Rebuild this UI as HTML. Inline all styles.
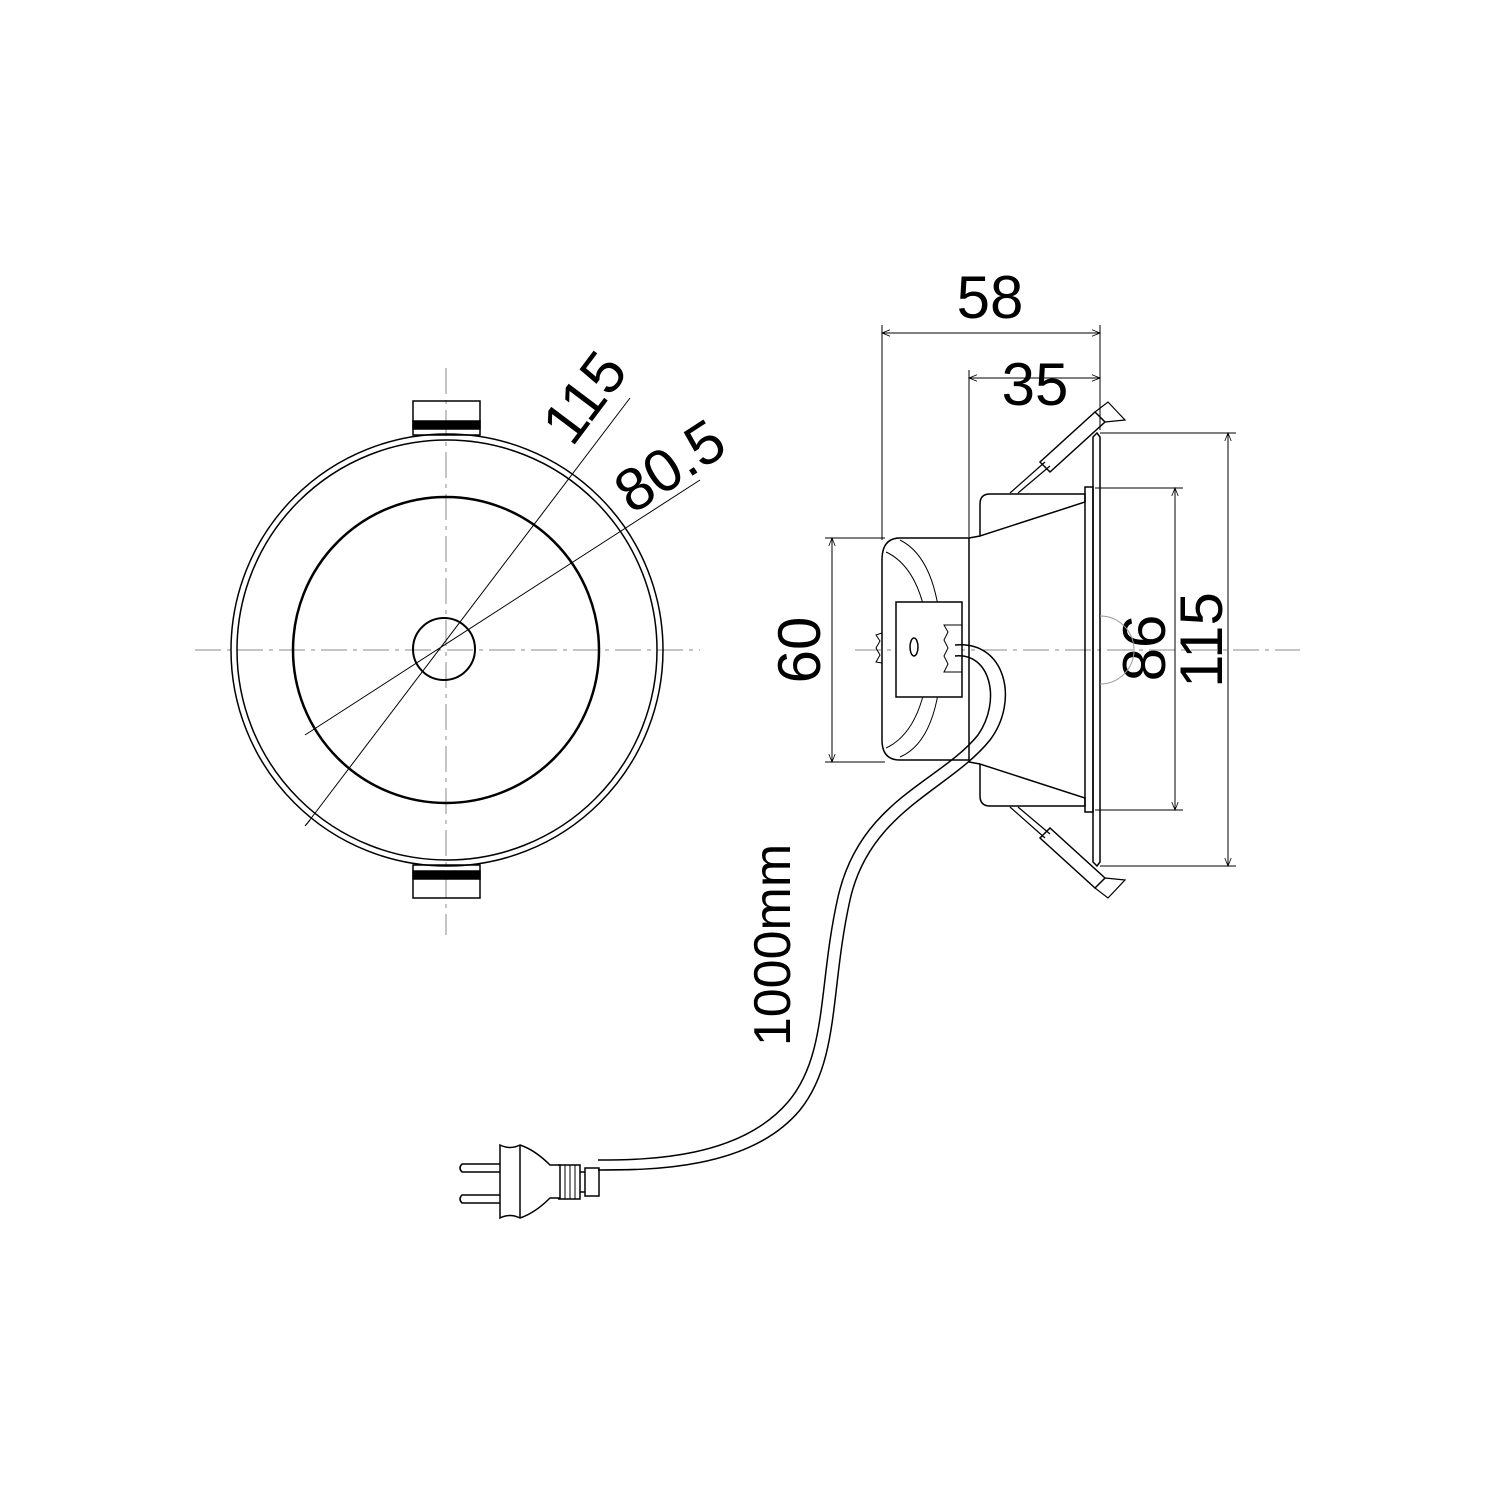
<!DOCTYPE html>
<html><head><style>body{margin:0;background:#fff}svg{display:block}</style></head><body>
<svg width="1500" height="1500" viewBox="0 0 1500 1500" xmlns="http://www.w3.org/2000/svg" font-family="Liberation Sans, sans-serif">
<defs>
<marker id="a" viewBox="0 0 10 10" refX="10" refY="5" markerWidth="12" markerHeight="8" orient="auto-start-reverse" markerUnits="userSpaceOnUse"><path d="M0,1 L10,5 L0,9" fill="none" stroke="#000" stroke-width="1"/></marker>
</defs>
<g fill="none" stroke="#000" stroke-width="1.5">
<!-- front view -->
<g stroke="#888" stroke-width="1" stroke-dasharray="26,6,4,6">
<line x1="195" y1="650" x2="700" y2="650"/>
<line x1="446" y1="368" x2="446" y2="935"/>
</g>
<circle cx="447" cy="650" r="216"/>
<circle cx="447" cy="650" r="210"/>
<circle cx="446" cy="650" r="153" stroke-width="2.5"/>
<circle cx="444" cy="649" r="31" stroke-width="2"/>
<rect x="413" y="401" width="67" height="34"/>
<rect x="413" y="421" width="67" height="8" fill="#000"/>
<rect x="413" y="865" width="67" height="33"/>
<rect x="413" y="871" width="67" height="8" fill="#000"/>
<g stroke-width="1">
<line x1="306" y1="825" x2="630" y2="398"/>
<line x1="305" y1="735" x2="700" y2="480"/>
<line x1="310" y1="820" x2="305" y2="826"/>
</g>
<text x="0" y="0" font-size="60" fill="#000" stroke="none" transform="translate(572,448) rotate(-53)">115</text>
<text x="0" y="0" font-size="60" fill="#000" stroke="none" transform="translate(632,515) rotate(-33)">80.5</text>

<!-- side view -->
<line x1="855" y1="650" x2="1300" y2="650" stroke="#888" stroke-width="1" stroke-dasharray="26,6,4,6"/>
<!-- dimension lines -->
<g stroke-width="1">
<line x1="882" y1="325" x2="882" y2="540"/>
<line x1="1100" y1="325" x2="1100" y2="430"/>
<line x1="882" y1="333" x2="1100" y2="333" marker-start="url(#a)" marker-end="url(#a)"/>
<line x1="969" y1="370" x2="969" y2="537"/>
<line x1="969" y1="378" x2="1100" y2="378" marker-start="url(#a)" marker-end="url(#a)"/>
<line x1="825" y1="538" x2="885" y2="538"/>
<line x1="825" y1="762" x2="885" y2="762"/>
<line x1="832" y1="538" x2="832" y2="762" marker-start="url(#a)" marker-end="url(#a)"/>
<line x1="1095" y1="488" x2="1183" y2="488"/>
<line x1="1095" y1="810" x2="1183" y2="810"/>
<line x1="1175" y1="488" x2="1175" y2="810" marker-start="url(#a)" marker-end="url(#a)"/>
<line x1="1100" y1="433" x2="1236" y2="433"/>
<line x1="1100" y1="866" x2="1236" y2="866"/>
<line x1="1228" y1="433" x2="1228" y2="866" marker-start="url(#a)" marker-end="url(#a)"/>
</g>
<text x="990" y="318" font-size="60" text-anchor="middle" fill="#000" stroke="none">58</text>
<text x="1035" y="405" font-size="60" text-anchor="middle" fill="#000" stroke="none">35</text>
<text transform="translate(820,650) rotate(-90)" font-size="60" text-anchor="middle" fill="#000" stroke="none">60</text>
<text transform="translate(1165,648) rotate(-90)" font-size="60" text-anchor="middle" fill="#000" stroke="none">86</text>
<text transform="translate(1222,640) rotate(-90)" font-size="60" text-anchor="middle" fill="#000" stroke="none">115</text>
<!-- cylinder -->
<path d="M900,538 L969,538 L969,760 L900,760 Q882,760 882,740 L882,560 Q882,538 900,538 Z"/>
<path d="M900,540 Q940,560 942,650 Q940,740 900,757" stroke-width="1"/>
<path d="M886,552 Q925,570 930,650 Q925,730 886,748" stroke-width="1"/>
<rect x="896" y="602" width="66" height="95" fill="#fff"/>
<ellipse cx="914" cy="647" rx="4" ry="9"/>
<path d="M882,633 L876,635 L880,641 L876,648 L880,655 L876,662 L882,663" stroke-width="1"/>
<path d="M962,625 L944,625 L948,632 L944,640 L948,648 L944,656 L948,664 L944,672 L962,672" stroke-width="1"/>
<!-- housing -->
<path d="M990,494 L1085,494 L1085,502 L980,536 L980,504 Q980,494 990,494 Z"/>
<path d="M990,806 L1085,806 L1085,798 L980,764 L980,796 Q980,806 990,806 Z"/>
<line x1="969" y1="538" x2="980" y2="536"/>
<line x1="969" y1="762" x2="980" y2="764"/>
<rect x="1085" y="487" width="8" height="325"/>
<path d="M1093,437 L1097,433 L1100,437 L1100,862 L1097,866 L1093,862 Z"/>
<path d="M1100,616 A34,34 0 0 1 1100,684" stroke="#999" stroke-width="1"/>
<!-- springs -->
<path d="M1010,493 L1045,462 M1018,493 L1050,466" stroke-width="1.2"/>
<path d="M1040,462 L1050,472 L1105,422 L1095,412 Z"/>
<path d="M1095,412 L1108,402 L1125,420 L1105,422" stroke-width="1.2"/>
<path d="M1010,807 L1045,838 M1018,807 L1050,834" stroke-width="1.2"/>
<path d="M1040,838 L1050,828 L1105,878 L1095,888 Z"/>
<path d="M1095,888 L1108,898 L1125,880 L1105,878" stroke-width="1.2"/>
<!-- cable -->
<path d="M955,645 C1005,640 1020,700 990,740 C950,790 870,810 850,900 C830,990 840,1060 800,1110 C750,1170 650,1170 598,1170"/>
<path d="M955,656 C990,652 1002,700 978,735 C940,782 860,800 838,897 C818,985 828,1055 788,1102 C740,1158 650,1160 598,1160"/>
<text transform="translate(790,945) rotate(-90)" font-size="52" text-anchor="middle" fill="#000" stroke="none">1000mm</text>
<!-- plug -->
<path d="M500,1145 Q510,1150 520,1145 Q535,1150 550,1165 L560,1165 L560,1198 L550,1198 Q535,1213 520,1218 Q510,1213 500,1218 Z" fill="#fff"/>
<line x1="520" y1="1145" x2="520" y2="1218"/>
<path d="M558,1165 L580,1165 L580,1199 L558,1199" />
<line x1="565" y1="1165" x2="565" y2="1199" stroke-width="1"/>
<line x1="570" y1="1165" x2="570" y2="1199" stroke-width="1"/>
<line x1="575" y1="1165" x2="575" y2="1199" stroke-width="1"/>
<rect x="585" y="1168" width="14" height="28"/>
<line x1="580" y1="1172" x2="585" y2="1172"/>
<line x1="580" y1="1192" x2="585" y2="1192"/>
<path d="M500,1164 L462,1164 Q458,1168 462,1172 L500,1172"/>
<path d="M500,1195 L462,1195 Q458,1199 462,1203 L500,1203"/>
</g>
</svg>
</body></html>
